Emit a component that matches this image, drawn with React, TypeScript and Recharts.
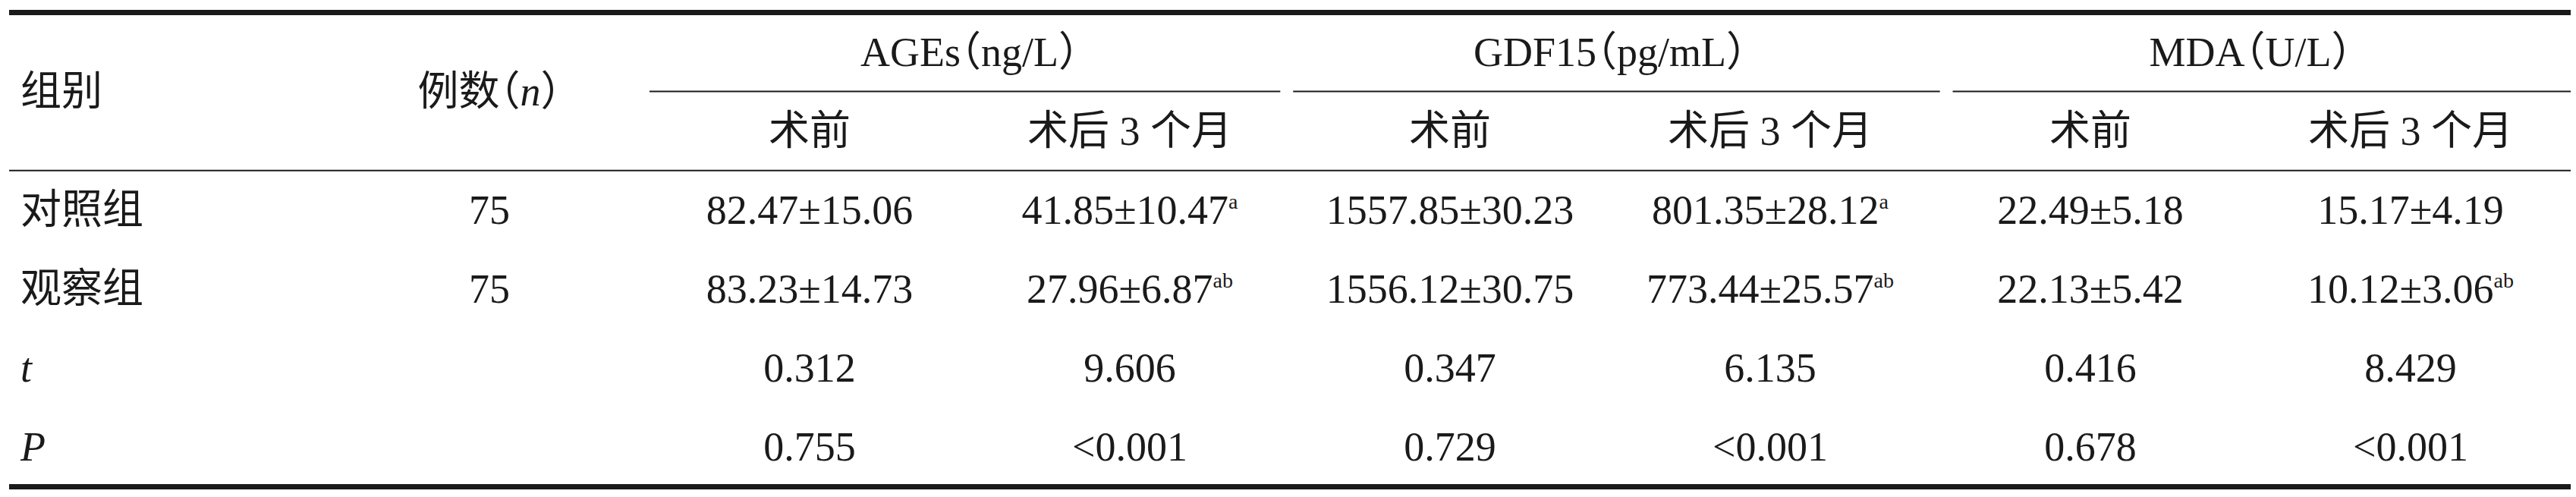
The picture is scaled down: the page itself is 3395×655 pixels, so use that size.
import { ScatterChart, Scatter, XAxis, YAxis, ReferenceLine } from 'recharts';

// table content
const rowLabels = ['对照组', '观察组', 't', 'P'];
const caseCounts = ['75', '75', '', ''];
const markerGroups = ['AGEs（ng/L）', 'GDF15（pg/mL）', 'MDA（U/L）'];
const timePoints = ['术前', '术后 3 个月'];

const agesBefore = ['82.47±15.06', '83.23±14.73', '0.312', '0.755'];
const agesAfter = ['41.85±10.47', '27.96±6.87', '9.606', '<0.001'];
const agesAfterSup = ['a', 'ab', '', ''];
const gdfBefore = ['1557.85±30.23', '1556.12±30.75', '0.347', '0.729'];
const gdfAfter = ['801.35±28.12', '773.44±25.57', '6.135', '<0.001'];
const gdfAfterSup = ['a', 'ab', '', ''];
const mdaBefore = ['22.49±5.18', '22.13±5.42', '0.416', '0.678'];
const mdaAfter = ['15.17±4.19', '10.12±3.06', '8.429', '<0.001'];
const mdaAfterSup = ['', 'ab', '', ''];

const valueColumns = [agesBefore, agesAfter, gdfBefore, gdfAfter, mdaBefore, mdaAfter];
const valueSups: string[][] = [[], agesAfterSup, [], gdfAfterSup, [], mdaAfterSup];

// column-index spans of the rules under each marker heading
const groupRuleSpans: [number, number][] = [
  [1.5, 3.47],
  [3.51, 5.53],
  [5.57, 7.5],
];

type TableCell = {
  x: number;
  y: number;
  text: string;
  sup?: string;
  italic?: string;
  start?: boolean;
};

const cells: TableCell[] = [];
cells.push({ x: -0.5, y: -1.5, text: '组别', start: true });
cells.push({ x: 1, y: -1.5, text: '例数（n）', italic: 'n' });
markerGroups.forEach((g, i) => cells.push({ x: 2.5 + i * 2, y: -2, text: g }));
markerGroups.forEach((_, i) =>
  timePoints.forEach((t, j) => cells.push({ x: 2 + i * 2 + j, y: -1, text: t }))
);
rowLabels.forEach((label, r) => {
  const italic = r >= 2 ? label : undefined;
  cells.push({ x: -0.5, y: r, text: label, start: true, italic });
  if (caseCounts[r]) cells.push({ x: 1, y: r, text: caseCounts[r] });
  valueColumns.forEach((col, k) =>
    cells.push({ x: 2 + k, y: r, text: col[r], sup: valueSups[k][r] || undefined })
  );
});

const FONT = "'Liberation Serif', 'Noto Sans CJK SC', serif";
const INK = '#1a1a1a';

function renderBody(c: TableCell) {
  if (!c.italic) return c.text;
  const k = c.text.indexOf(c.italic);
  return (
    <>
      {c.text.slice(0, k)}
      <tspan fontStyle="italic">{c.italic}</tspan>
      {c.text.slice(k + c.italic.length)}
    </>
  );
}

function CellText(props: any) {
  const { cx, cy, payload } = props;
  const c = payload as TableCell;
  const x = c.start ? cx + 15 : cx;
  return (
    <text
      x={x}
      y={cy + 18}
      textAnchor={c.start ? 'start' : 'middle'}
      fontFamily={FONT}
      fontSize={54}
      fill={INK}
      // brackets set half-width, as in the printed table
      style={{ fontFeatureSettings: '"halt"' }}
    >
      {renderBody(c)}
      {c.sup && (
        <tspan fontSize={28} dy={-20}>
          {c.sup}
        </tspan>
      )}
    </text>
  );
}

export default function App() {
  return (
    <div style={{ position: 'absolute', left: 0, top: 0, background: '#fff' }}>
      <ScatterChart width={3395} height={655} margin={{ top: 6, right: 7, bottom: 3, left: 12 }}>
        <XAxis type="number" dataKey="x" domain={[-0.5, 7.5]} hide />
        <YAxis type="number" dataKey="y" domain={[-2.6, 3.6]} reversed hide />
        <ReferenceLine y={-2.5} stroke={INK} strokeWidth={7} />
        {groupRuleSpans.map(([a, b], i) => (
          <ReferenceLine
            key={i}
            segment={[
              { x: a, y: -1.5 },
              { x: b, y: -1.5 },
            ]}
            stroke={INK}
            strokeWidth={2}
          />
        ))}
        <ReferenceLine y={-0.5} stroke={INK} strokeWidth={2} />
        <ReferenceLine y={3.5} stroke={INK} strokeWidth={7} />
        <Scatter data={cells} shape={CellText} isAnimationActive={false} />
      </ScatterChart>
    </div>
  );
}
